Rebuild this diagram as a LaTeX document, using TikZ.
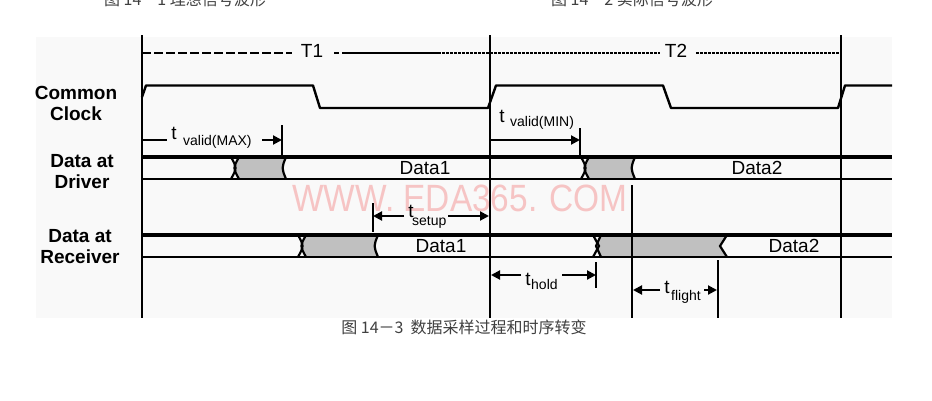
\documentclass[tikz,border=0pt]{standalone}
\usepackage{fontspec}
\newfontfamily\sansf{Liberation Sans}
\newfontfamily\cjkf{Noto Sans CJK SC}
\usetikzlibrary{arrows.meta}
\definecolor{wm}{RGB}{246,196,196}
\definecolor{bg}{RGB}{249,249,249}
\definecolor{busgray}{RGB}{192,192,192}
\tikzset{
  vline/.style={line width=2pt},
  clk/.style={line width=2.4pt,line join=round},
  bustop/.style={line width=3.4pt},
  busbot/.style={line width=2pt},
  xedge/.style={line width=2.2pt},
  dimline/.style={line width=2pt},
  dimarrow/.style={line width=2pt,-{Triangle[length=9pt,width=9pt]}},
  lab/.style={font=\sansf\bfseries\fontsize{19}{21}\selectfont,align=center,inner sep=0pt},
  datatxt/.style={font=\sansf\fontsize{19}{21}\selectfont,inner sep=0pt},
  ttxt/.style={font=\sansf\fontsize{19}{21}\selectfont,inner sep=0pt},
  subtxt/.style={font=\sansf\fontsize{14}{16}\selectfont,inner sep=0pt},
  captxt/.style={font=\cjkf\fontsize{16}{18}\selectfont,inner sep=0pt,text=black!75},
}
\begin{document}
\begin{tikzpicture}[x=1pt,y=-1pt]
\useasboundingbox (0,0) rectangle (932,400);
\fill[white] (0,0) rectangle (932,400);
\fill[bg] (36,37) rectangle (892,318);

% top captions (cut off)
\node[captxt,anchor=base] (cap1) at (185,5.5) {图 14－1 理想信号波形};
\node[captxt,anchor=base] (cap2) at (632,5.5) {图 14－2 实际信号波形};

% watermark
\node[font=\sansf\fontsize{38}{40}\selectfont,text=wm,xscale=0.88,inner sep=0pt] (wmark) at (460,198) {WWW. EDA365. COM};

% gray regions
\fill[busgray] (235,168) -- (239,157) -- (286,157) .. controls (281.5,168) .. (286,179) -- (239,179) -- cycle;
\fill[busgray] (585,168) -- (589,157) -- (635,157) .. controls (630.5,168) .. (635,179) -- (589,179) -- cycle;
\fill[busgray] (302,246) -- (306,235) -- (378,235) .. controls (373.5,246) .. (378,257) -- (306,257) -- cycle;
\fill[busgray] (597,246) -- (601,235) -- (727,235) -- (720,246) -- (727,257) -- (601,257) -- cycle;

% driver bus
\draw[bustop] (142,157) -- (892,157);
\draw[busbot] (142,179) -- (892,179);
\draw[xedge] (231,157) .. controls (237,168) .. (231,179);
\draw[xedge] (239,157) .. controls (233,168) .. (239,179);
\draw[xedge] (286,157) .. controls (281.5,168) .. (286,179);
\draw[xedge] (581,157) .. controls (587,168) .. (581,179);
\draw[xedge] (589,157) .. controls (583,168) .. (589,179);
\draw[xedge] (635,157) .. controls (630.5,168) .. (635,179);

% receiver bus
\draw[bustop] (142,235) -- (892,235);
\draw[busbot] (142,257) -- (892,257);
\draw[xedge] (298,235) .. controls (304,246) .. (298,257);
\draw[xedge] (306,235) .. controls (300,246) .. (306,257);
\draw[xedge] (378,235) .. controls (373.5,246) .. (378,257);
\draw[xedge] (593,235) -- (599,246) -- (593,257);
\draw[xedge] (601,235) -- (596,246) -- (601,257);
\draw[xedge] (727,235) -- (720,246) -- (727,257);

% data texts
\node[datatxt] (d1) at (425,168) {Data1};
\node[datatxt] (d2) at (757,168) {Data2};
\node[datatxt] (r1) at (441,246) {Data1};
\node[datatxt] (r2) at (794,246) {Data2};

% clock
\draw[clk] (142,97) -- (146,85.5) -- (313,85.5) -- (320,108) -- (488,108) -- (496,85.5)
  -- (663,85.5) -- (671,108) -- (838,108) -- (845,85.5) -- (892,85.5);

% main vertical lines
\coordinate (v1t) at (142,35); \coordinate (v1b) at (142,318);
\coordinate (v2t) at (490,35); \coordinate (v2b) at (490,318);
\coordinate (v3t) at (841,35); \coordinate (v3b) at (841,318);
\draw[vline] (v1t) -- (v1b);
\draw[vline] (v2t) -- (v2b);
\draw[vline] (v3t) -- (v3b);
\draw[vline] (632,185) -- (632,318);
\draw[vline] (718,260) -- (718,318);

% period line
\draw[line width=2pt,dash pattern=on 9pt off 3pt] (142,53) -- (292,53);
\draw[line width=2pt,dash pattern=on 5pt off 3pt] (334,53) -- (347,53);
\draw[line width=2pt] (347,53) -- (438,53);
\draw[line width=1.6pt,dash pattern=on 3pt off 1pt] (438,53) -- (660,53);
\draw[line width=1.6pt,dash pattern=on 3pt off 1pt] (696,53) -- (841,53);
\node[ttxt] (T1) at (312,51) {T1};
\node[ttxt] (T2) at (676,51) {T2};

% t valid(MAX)
\coordinate (vmaxL) at (142,140); \coordinate (vmaxR) at (282,140);
\draw[dimline] (vmaxL) -- (167,140);
\draw[dimarrow] (262,140) -- (vmaxR);
\draw[vline] (282,125) -- (282,157);
\node[ttxt] (tvmax) at (174,133) {t};
\node[subtxt,anchor=west] (svmax) at (183,142) {valid(MAX)};

% t valid(MIN)
\coordinate (vminL) at (491,140); \coordinate (vminR) at (580,140);
\draw[dimarrow] (vminL) -- (vminR);
\draw[vline] (580,128) -- (580,157);
\node[ttxt] (tvmin) at (502,116) {t};
\node[subtxt,anchor=west] (svmin) at (510,123) {valid(MIN)};

% t setup
\coordinate (suL) at (373,216); \coordinate (suR) at (489,216);
\draw[vline] (373,203) -- (373,232);
\draw[dimarrow] (404,216) -- (suL);
\draw[dimarrow] (448,216) -- (suR);
\node[ttxt] (tsu) at (411,211) {t};
\node[subtxt,anchor=west] (ssu) at (412,222) {setup};

% t hold
\coordinate (hoL) at (491,275); \coordinate (hoR) at (596,275);
\draw[vline] (596,262) -- (596,288);
\draw[dimarrow] (521,275) -- (hoL);
\draw[dimarrow] (562,275) -- (hoR);
\node[ttxt] (tho) at (528,279) {t};
\node[subtxt,anchor=west] (sho) at (531,284) {hold};

% t flight
\coordinate (flL) at (633,290); \coordinate (flR) at (717,290);
\draw[dimarrow] (660,290) -- (flL);
\draw[dimarrow] (704,290) -- (flR);
\node[ttxt] (tfl) at (667,287) {t};
\node[subtxt,anchor=west] (sfl) at (671,297) {flight};

% labels
\node[lab] (lclk) at (76,103.5) {Common\\Clock};
\node[lab] (ldrv) at (82,172) {Data at\\Driver};
\node[lab] (lrcv) at (80,247) {Data at\\Receiver};

% bottom caption
\node[captxt] (cap3) at (464,327) {图 14－3\ \ 数据采样过程和时序转变};
\end{tikzpicture}
\end{document}
